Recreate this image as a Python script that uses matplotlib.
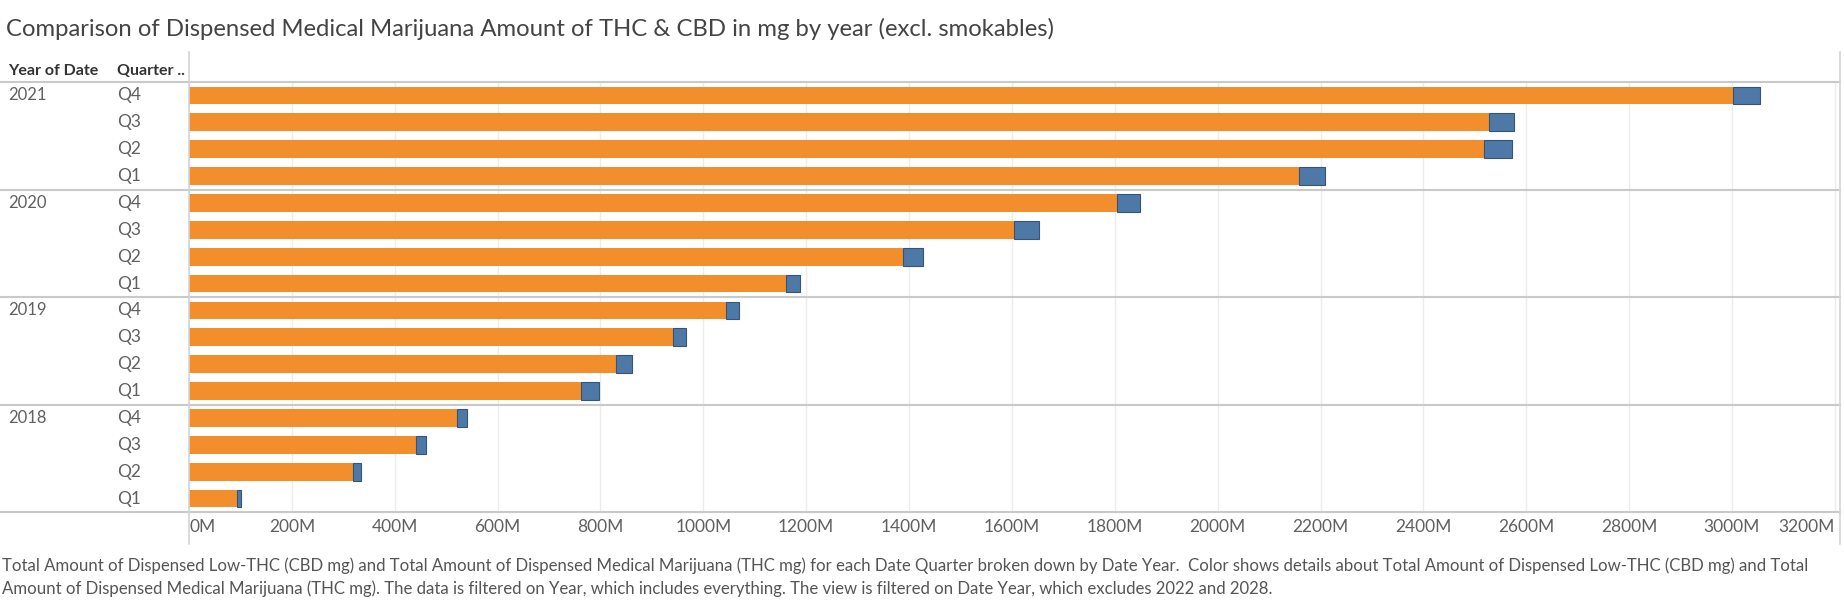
import matplotlib
matplotlib.use("Agg")
import matplotlib.pyplot as plt
from matplotlib.transforms import blended_transform_factory
import numpy as np

plt.rcParams['font.family'] = ['Lato', 'DejaVu Sans']

# rows top to bottom, values in millions of mg
years = ["2021", "2020", "2019", "2018"]
quarters = ["Q4", "Q3", "Q2", "Q1"]
thc_mg = [3001, 2528, 2517, 2158,
          1805, 1604, 1388, 1161,
          1044, 941, 830, 763,
          522, 442, 318, 94]
cbd_mg = [54, 48, 56, 51,
          44, 49, 40, 26,
          26, 25, 31, 35,
          19, 18, 17, 7]
x_ticks = list(range(0, 3201, 200))
x_labels = [f"{t}M" for t in x_ticks]

title = "Comparison of Dispensed Medical Marijuana Amount of THC & CBD in mg by year (excl. smokables)"
footer = ("Total Amount of Dispensed Low-THC (CBD mg) and Total Amount of Dispensed Medical Marijuana (THC mg) for each Date Quarter broken down by Date Year.  Color shows details about Total Amount of Dispensed Low-THC (CBD mg) and Total\n"
          "Amount of Dispensed Medical Marijuana (THC mg). The data is filtered on Year, which includes everything. The view is filtered on Date Year, which excludes 2022 and 2028.")

W, H = 1844, 604
fig = plt.figure(figsize=(W / 100, H / 100), dpi=100)
left, right, top, bottom = 189, 1840, 82, 512
ax = fig.add_axes([left / W, 1 - bottom / H, (right - left) / W, (bottom - top) / H])

orange = "#F28E2B"
blue = "#4E79A7"
line_c = "#c9c9c9"
text_c = "#606060"

y = np.arange(len(thc_mg))
ax.barh(y, thc_mg, height=0.66, color=orange, linewidth=0, zorder=2)
ax.barh(y, cbd_mg, left=thc_mg, height=0.66, color=blue, edgecolor="#34547a", linewidth=0.8, zorder=2)

ax.set_ylim(len(thc_mg) - 0.5, -0.5)
ax.set_xlim(0, 3210)
ax.set_yticks([])
ax.set_xticks(x_ticks)
ax.set_xticklabels(x_labels, fontsize=12.5, color=text_c)
ax.tick_params(axis="x", length=0, pad=5)
labels = ax.get_xticklabels()
labels[0].set_ha("left")
labels[-1].set_ha("right")
for s in ax.spines.values():
    s.set_visible(False)
ax.grid(axis="x", color="#ececec", linewidth=1, zorder=0)

# frame lines
xmin_ext = -left / (right - left)
ax.axhline(-0.5, xmin=xmin_ext, xmax=1, color=line_c, lw=1.5, clip_on=False, zorder=3)
for k in range(1, len(years) + 1):
    ax.axhline(4 * k - 0.5, xmin=xmin_ext, xmax=1, color=line_c, lw=1.5, clip_on=False, zorder=3)
ax.axvline(0, ymin=-0.075, ymax=1.07, color="#d4d4d4", lw=1.2, clip_on=False, zorder=3)
ax.axvline(3210, ymin=-0.075, ymax=1.07, color="#d4d4d4", lw=1.2, clip_on=False, zorder=3)

# row headers
row_tr = blended_transform_factory(fig.transFigure, ax.transData)
for i, yr in enumerate(years):
    ax.text(8 / W, 4 * i, yr, transform=row_tr, fontsize=12, color=text_c, va="center", ha="left")
    for j, q in enumerate(quarters):
        ax.text(117 / W, 4 * i + j, q, transform=row_tr, fontsize=12.5, color=text_c, va="center", ha="left")

fig.text(8 / W, 1 - 71 / H, "Year of Date", fontsize=11.5, fontweight="bold", color="#333333", va="center")
fig.text(117 / W, 1 - 71 / H, "Quarter ..", fontsize=11.5, fontweight="bold", color="#333333", va="center")

fig.text(6 / W, 1 - 29 / H, title, fontsize=17.2, color="#444444", va="center")
fig.text(2 / W, 1 - 577 / H, footer, fontsize=12.1, color="#555555", va="center", linespacing=1.45)

fig.savefig("out.png", dpi=100, facecolor="white")
